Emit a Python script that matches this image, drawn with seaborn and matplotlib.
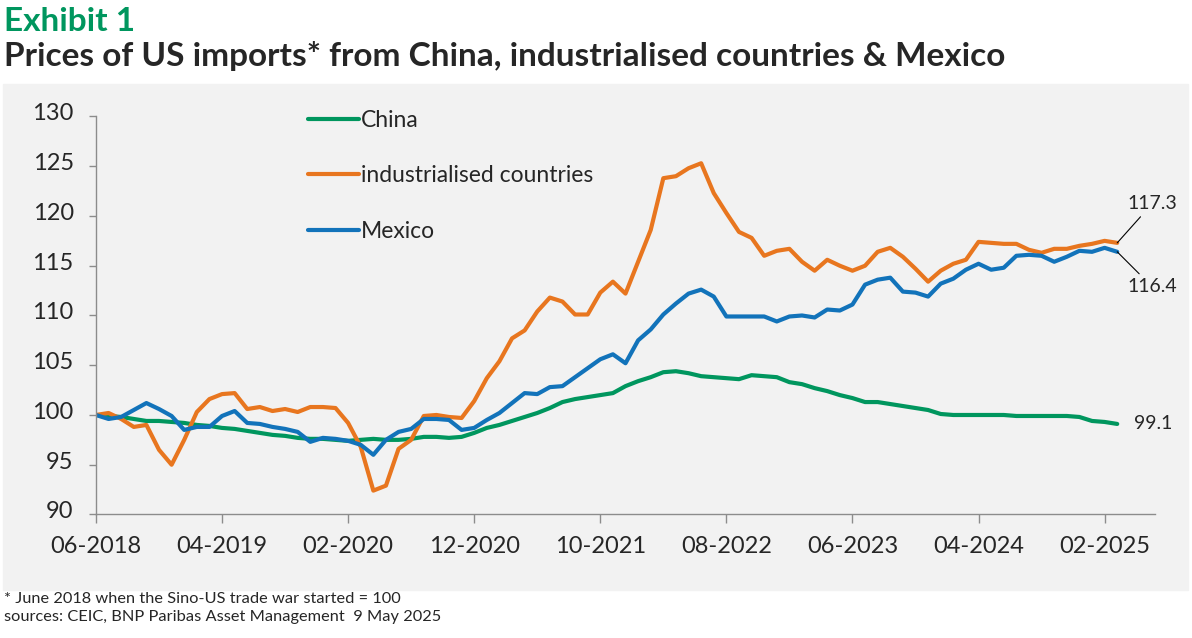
import numpy as np
import pandas as pd
import matplotlib as mpl
from matplotlib import pyplot as plt
from matplotlib.patches import Rectangle
from matplotlib.transforms import ScaledTranslation
import seaborn as sns

sns.set_style('white')
plt.rcParams['font.family'] = ['Lato', 'DejaVu Sans']

# monthly index values, June 2018 = 100
months = pd.period_range('2018-06', '2025-03', freq='M')

china = [100.0, 99.9, 99.8, 99.6, 99.4, 99.4, 99.3, 99.2, 99.0, 98.9,
         98.7, 98.6, 98.4, 98.2, 98.0, 97.9, 97.7, 97.6, 97.6, 97.5,
         97.4, 97.5, 97.6, 97.5, 97.5, 97.6, 97.8, 97.8, 97.7, 97.8,
         98.2, 98.7, 99.0, 99.4, 99.8, 100.2, 100.7, 101.3, 101.6, 101.8,
         102.0, 102.2, 102.9, 103.4, 103.8, 104.3, 104.4, 104.2, 103.9, 103.8,
         103.7, 103.6, 104.0, 103.9, 103.8, 103.3, 103.1, 102.7, 102.4, 102.0,
         101.7, 101.3, 101.3, 101.1, 100.9, 100.7, 100.5, 100.1, 100.0, 100.0,
         100.0, 100.0, 100.0, 99.9, 99.9, 99.9, 99.9, 99.9, 99.8, 99.4,
         99.3, 99.1]

industrialised = [100.0, 100.2, 99.6, 98.8, 99.0, 96.5, 95.0, 97.5, 100.3, 101.6,
                  102.1, 102.2, 100.6, 100.8, 100.4, 100.6, 100.3, 100.8, 100.8, 100.7,
                  99.2, 96.8, 92.4, 92.9, 96.6, 97.5, 99.9, 100.0, 99.8, 99.7,
                  101.4, 103.7, 105.4, 107.7, 108.5, 110.4, 111.8, 111.4, 110.1, 110.1,
                  112.3, 113.4, 112.2, 115.4, 118.6, 123.8, 124.0, 124.8, 125.3, 122.3,
                  120.3, 118.4, 117.8, 116.0, 116.5, 116.7, 115.4, 114.5, 115.6, 115.0,
                  114.5, 115.0, 116.4, 116.8, 115.9, 114.7, 113.4, 114.5, 115.2, 115.6,
                  117.4, 117.3, 117.2, 117.2, 116.6, 116.3, 116.7, 116.7, 117.0, 117.2,
                  117.5, 117.3]

mexico = [100.0, 99.6, 99.8, 100.5, 101.2, 100.6, 99.9, 98.5, 98.8, 98.8,
          99.9, 100.4, 99.2, 99.1, 98.8, 98.6, 98.3, 97.3, 97.7, 97.6,
          97.4, 97.0, 96.0, 97.5, 98.3, 98.6, 99.6, 99.6, 99.5, 98.5,
          98.7, 99.5, 100.2, 101.2, 102.2, 102.1, 102.8, 102.9, 103.8, 104.7,
          105.6, 106.1, 105.2, 107.5, 108.6, 110.1, 111.2, 112.2, 112.6, 111.9,
          109.9, 109.9, 109.9, 109.9, 109.4, 109.9, 110.0, 109.8, 110.6, 110.5,
          111.1, 113.1, 113.6, 113.8, 112.4, 112.3, 111.9, 113.2, 113.7, 114.6,
          115.2, 114.6, 114.8, 116.0, 116.1, 116.0, 115.4, 115.9, 116.5, 116.4,
          116.8, 116.4]

series_names = ['China', 'industrialised countries', 'Mexico']
colors = ['#00965E', '#E8761F', '#1273BA']

df = pd.DataFrame({
    'month': np.tile(np.arange(len(months)), 3),
    'value': china + industrialised + mexico,
    'series': np.repeat(series_names, len(months)),
})

fig = plt.figure(figsize=(11.92, 6.38), dpi=100)
fig.patches.append(Rectangle((3 / 1192, 48 / 638), 1185 / 1192, 506 / 638,
                             transform=fig.transFigure, color='#f2f2f2', zorder=-10))
ax = fig.add_axes([0.0805, 0.1936, 0.8885, 0.6238])
ax.set_facecolor('none')

sns.lineplot(data=df, x='month', y='value', hue='series', hue_order=series_names,
             palette=colors, linewidth=3, ax=ax)

ax.set_xlim(0, 84)
ax.set_ylim(90, 130)
ax.set_yticks(np.arange(90, 131, 5))
tick_pos = np.arange(0, len(months), 10)
ax.set_xticks(tick_pos)
ax.set_xticklabels([months[i].strftime('%m-%Y') for i in tick_pos])
ax.set_xlabel('')
ax.set_ylabel('')

for s in ['top', 'right']:
    ax.spines[s].set_visible(False)
for s in ['left', 'bottom']:
    ax.spines[s].set_color('#8c8c8c')
    ax.spines[s].set_linewidth(1)
ax.tick_params(axis='y', direction='out', length=5, width=1, color='#8c8c8c',
               labelsize=17, pad=11, left=True)
ax.tick_params(axis='x', direction='out', length=6.5, width=1, color='#8c8c8c',
               labelsize=17, pad=9, bottom=True)
# y labels sit a little above their ticks, as in the original
for lab in ax.get_yticklabels():
    lab.set_transform(lab.get_transform() + ScaledTranslation(0, 3.4 / 72, fig.dpi_scale_trans))

handles, labels = ax.get_legend_handles_labels()
leg = ax.legend(handles=handles, labels=labels, loc='upper left',
                bbox_to_anchor=(0.181, 1.068), frameon=False, fontsize=16.5,
                handlelength=2.2, handletextpad=0.08, labelspacing=1.5)
for h in leg.get_lines():
    h.set_linewidth(3)

# end labels
last = len(months) - 1
ax.annotate(f'{industrialised[-1]:.1f}', xy=(last, industrialised[-1]),
            xytext=(25, 28), textcoords='offset points', ha='center', va='center',
            fontsize=14, arrowprops=dict(arrowstyle='-', color='black', lw=0.8,
                                          shrinkA=1, shrinkB=0))
ax.annotate(f'{mexico[-1]:.1f}', xy=(last, mexico[-1]),
            xytext=(25, -25), textcoords='offset points', ha='center', va='center',
            fontsize=14, arrowprops=dict(arrowstyle='-', color='black', lw=0.8,
                                          shrinkA=1, shrinkB=0))
ax.annotate(f'{china[-1]:.1f}', xy=(last, china[-1]),
            xytext=(12, 0), textcoords='offset points', ha='left', va='center',
            fontsize=14)

fig.text(4 / 1192, 1 - 31 / 638, 'Exhibit 1', color='#00965E', fontsize=24,
         fontweight='bold', va='baseline')
fig.text(4 / 1192, 1 - 66 / 638,
         'Prices of US imports* from China, industrialised countries & Mexico',
         fontsize=24, fontweight='bold', va='baseline')
fig.text(4 / 1192, 1 - 603 / 638, '* June 2018 when the Sino-US trade war started = 100',
         fontsize=11.8, va='baseline')
fig.text(4 / 1192, 1 - 621 / 638, 'sources: CEIC, BNP Paribas Asset Management  9 May 2025',
         fontsize=11.8, va='baseline')

fig.savefig('out.png', dpi=100)
